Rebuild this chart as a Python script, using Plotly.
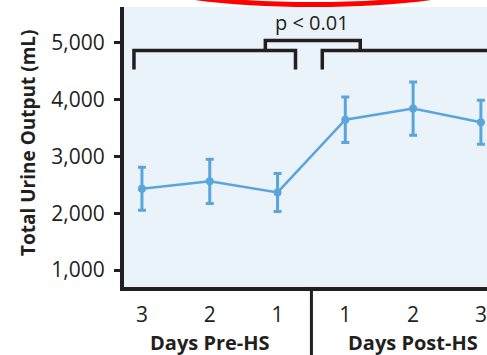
import plotly.graph_objects as go

# ---- data ----
tick_labels = ["3", "2", "1", "1", "2", "3"]
x_pos = [0, 1, 2, 3, 4, 5]
urine_mean = [2430, 2560, 2365, 3645, 3840, 3600]
urine_err = [380, 390, 335, 400, 470, 385]
group_labels = ["Days Pre-HS", "Days Post-HS"]
p_label = "p < 0.01"

INK = "#231f20"
BLUE = "#5aa5dc"
FONT = "Open Sans"

W, H = 487, 355
L, R, T, B = 124, 0, 7, 68
pw, ph = W - L - R, H - T - B

def px(xp):
    return (xp - L) / pw

def py(yp):
    return (H - B - yp) / ph

fig = go.Figure()
fig.add_trace(go.Scatter(
    x=x_pos, y=urine_mean, mode="lines+markers",
    line=dict(color=BLUE, width=2.5),
    marker=dict(color=BLUE, size=8),
    error_y=dict(type="data", array=urine_err, visible=True,
                 color=BLUE, thickness=3, width=4),
    showlegend=False, cliponaxis=False,
))

# brackets (data coords)
lo, hi, top = 4527, 4862, 5039
shapes = [
    dict(type="path", path=f"M -0.118,{lo} L -0.118,{hi} L 2.265,{hi} L 2.265,{lo}",
         xref="x", yref="y", line=dict(color=INK, width=3.5)),
    dict(type="path", path=f"M 2.66,{lo} L 2.66,{hi} L 5.6,{hi}",
         xref="x", yref="y", line=dict(color=INK, width=3.5)),
    dict(type="path", path=f"M 1.82,{hi} L 1.82,{top} L 3.22,{top} L 3.22,{hi}",
         xref="x", yref="y", line=dict(color=INK, width=3.5)),
    # divider between groups below axis
    dict(type="line", x0=2.5, x1=2.5, y0=0, y1=py(H + 5), xref="x", yref="paper",
         line=dict(color=INK, width=3)),
    # red ellipse (partially visible at top)
    dict(type="circle", xref="paper", yref="paper",
         x0=px(115), x1=px(511), y0=py(-67), y1=py(4.5),
         line=dict(color="#ff0000", width=5)),
]

annotations = [
    dict(text=p_label, x=px(311.5), y=py(22), xref="paper", yref="paper",
         showarrow=False, font=dict(family=FONT, size=20, color=INK),
         xanchor="center", yanchor="middle"),
    dict(text="<b>Total Urine Output (mL)</b>", x=px(28), y=py(143),
         xref="paper", yref="paper", showarrow=False, textangle=-90,
         font=dict(family=FONT, size=19, color=INK),
         xanchor="center", yanchor="middle"),
    dict(text=f"<b>{group_labels[0]}</b>", x=1, y=py(342), xref="x", yref="paper",
         showarrow=False, font=dict(family=FONT, size=20, color=INK),
         xanchor="center", yanchor="middle"),
    dict(text=f"<b>{group_labels[1]}</b>", x=4, y=py(342), xref="x", yref="paper",
         showarrow=False, font=dict(family=FONT, size=20, color=INK),
         xanchor="center", yanchor="middle"),
]

fig.update_layout(
    width=W, height=H,
    margin=dict(l=L, r=R, t=T, b=B, pad=0),
    paper_bgcolor="white", plot_bgcolor="#eaf2fa",
    shapes=shapes, annotations=annotations,
    xaxis=dict(range=[-0.265, 5.09], tickvals=x_pos, ticktext=tick_labels,
               showgrid=False, zeroline=False, showline=True, linecolor=INK,
               linewidth=4, ticks="", tickfont=dict(family=FONT, size=21, color=INK),
               ticklabelstandoff=6),
    yaxis=dict(range=[701, 5628], tickvals=[1000, 2000, 3000, 4000, 5000],
               tickformat=",d", showgrid=False, zeroline=False, showline=True,
               linecolor=INK, linewidth=4, ticks="outside", ticklen=6,
               tickwidth=3, tickcolor=INK,
               tickfont=dict(family=FONT, size=21, color=INK),
               ticklabelstandoff=5),
)

fig.write_html("out.html")
